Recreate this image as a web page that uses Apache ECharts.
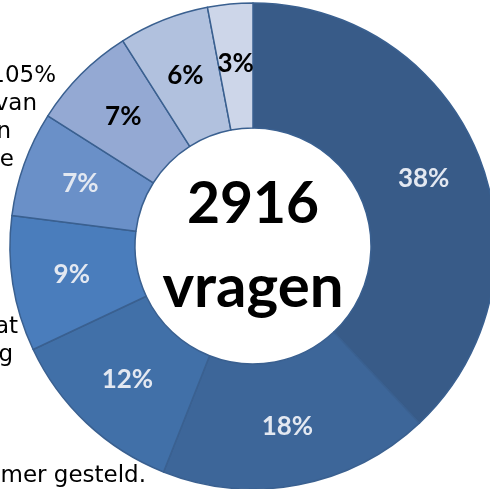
<!DOCTYPE html>
<html>
<head>
<meta charset="utf-8">
<script src="https://cdn.jsdelivr.net/npm/echarts@6/dist/echarts.min.js"></script>
<style>
  html, body { margin: 0; padding: 0; background: #fff; }
  #chart { width: 490px; height: 489px; }
</style>
</head>
<body>
<div id="chart"></div>
<script>
// share of questions per category (clockwise from the top)
var shares = [38, 18, 12, 9, 7, 7, 6, 3]
var sliceColors = ['#385b88', '#3d6699', '#4170a8', '#4a7dbc', '#6a90c8', '#94a9d3', '#b1c1de', '#cdd6e9']
var labelColors = ['#e3e8f1', '#e3e8f1', '#e3e8f1', '#e3e8f1', '#e3e8f1', '#000', '#000', '#000']
var centerLines = ['2916', 'vragen']
// bits of paragraph text that peek out from behind the donut
var sideText = [
  { t: '105%', x: 56, y: 76 },
  { t: 'van', x: 37, y: 104 },
  { t: 'n', x: 11, y: 132 },
  { t: 'e', x: 14, y: 160 },
  { t: 'at', x: 18, y: 327 },
  { t: 'g', x: 13, y: 355 },
  { t: 'mer gesteld.', x: 146, y: 476 }
]

var chart = echarts.init(document.getElementById('chart'))

var graphics = sideText.map(function (s) {
  return {
    type: 'text', z: -1,
    style: { text: s.t, x: s.x, y: s.y, textAlign: 'right', textVerticalAlign: 'middle',
      font: '23px "DejaVu Sans"', fill: '#000' }
  }
})
centerLines.forEach(function (t, i) {
  graphics.push({
    type: 'text', z: 10,
    style: { text: t, x: 253, y: i ? 288 : 205, textAlign: 'center', textVerticalAlign: 'middle',
      font: i ? 'bold 60px Lato' : 'bold 57px Lato', fill: '#000' }
  })
})

chart.setOption({
  animation: false,
  graphic: graphics,
  series: [{
    type: 'pie',
    center: [253, 246],
    radius: [118, 243],
    startAngle: 90,
    clockwise: true,
    avoidLabelOverlap: false,
    itemStyle: { borderColor: '#3a6090', borderWidth: 1.5 },
    label: { position: 'inside', fontFamily: 'Lato', fontWeight: 'bold', fontSize: 26 },
    labelLine: { show: false },
    data: shares.map(function (v, i) {
      return {
        value: v,
        itemStyle: { color: sliceColors[i] },
        label: { formatter: v + '%', color: labelColors[i] }
      }
    })
  }]
})
</script>
</body>
</html>
